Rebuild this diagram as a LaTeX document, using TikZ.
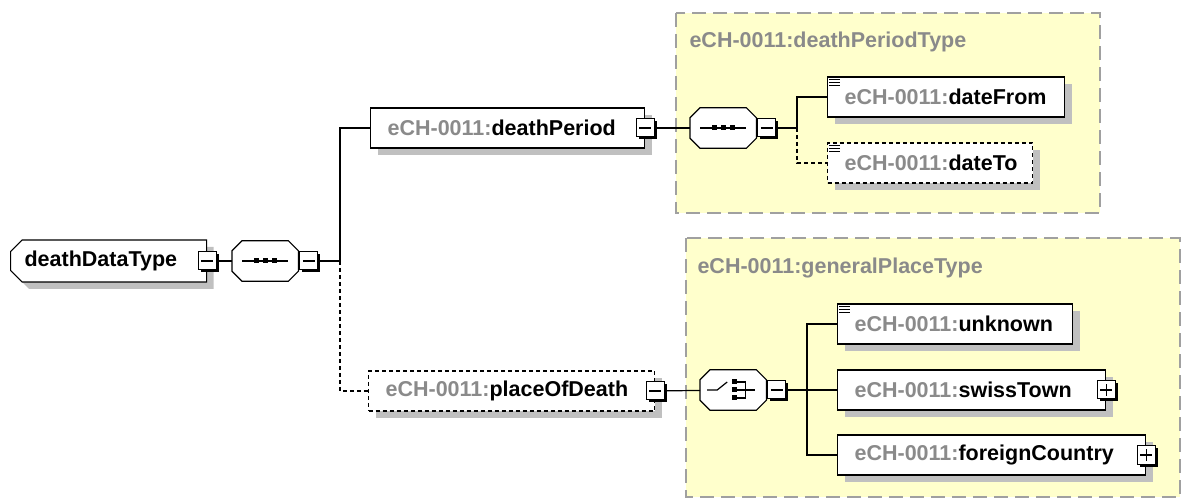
\documentclass[tikz,border=0pt]{standalone}
\usepackage{fontspec}
\setmainfont{Liberation Sans}
\usetikzlibrary{shapes.misc,shadows,positioning}
\definecolor{typebg}{HTML}{FFFFCC}
\definecolor{typeline}{HTML}{A0A0A0}
\definecolor{prefixgray}{HTML}{8A8A8A}
\definecolor{shadowgray}{HTML}{C0C0C0}
\newcommand{\elname}[1]{\mbox{\textcolor{prefixgray}{eCH-0011:}#1}}
\tikzset{
  boxshadow/.style = {drop shadow={shadow xshift=7pt, shadow yshift=-7pt,
                      fill=shadowgray, opacity=1}},
  elem/.style      = {rectangle, draw, line width=1.2pt, fill=white,
                      anchor=west, inner xsep=17pt, inner ysep=0pt,
                      minimum height=40pt, text width=#1, align=left,
                      font=\bfseries\fontsize{21.5}{21.5}\selectfont, boxshadow},
  optelem/.style   = {elem=#1, dash pattern=on 4pt off 3pt},
  root/.style      = {elem=#1, chamfered rectangle,
                      chamfered rectangle xsep=8pt,
                      chamfered rectangle corners={north west,south west},
                      inner xsep=6pt, minimum height=42pt},
  compbox/.style   = {rectangle, anchor=west, inner sep=0pt,
                      minimum width=66pt, minimum height=40pt},
  octshadow/.style = {fill=shadowgray, xshift=7pt, yshift=-7pt},
  octface/.style   = {draw, line width=1.2pt, fill=white},
  expander/.style  = {rectangle, draw, line width=1pt, fill=white,
                      minimum size=18pt, inner sep=0pt,
                      drop shadow={shadow xshift=2.5pt, shadow yshift=-2.5pt,
                                   fill=black, opacity=1},
                      path picture={\draw[line width=1.2pt]
                        ([xshift=3pt]path picture bounding box.west) --
                        ([xshift=-3pt]path picture bounding box.east);}},
  collapsed/.style = {expander,
                      path picture={\draw[line width=1.2pt]
                        ([xshift=3pt]path picture bounding box.west) --
                        ([xshift=-3pt]path picture bounding box.east);
                        \draw[line width=1.2pt]
                        ([yshift=3pt]path picture bounding box.south) --
                        ([yshift=-3pt]path picture bounding box.north);}},
  typebox/.style   = {draw=typeline, fill=typebg, line width=1.5pt,
                      dash pattern=on 14pt off 7pt},
  typelabel/.style = {anchor=west, text=prefixgray,
                      font=\bfseries\fontsize{21.5}{21.5}\selectfont},
  wire/.style      = {line width=1.2pt},
  optwire/.style   = {wire, dash pattern=on 4pt off 3pt}
}
\newcommand{\octagon}[1]{%
  \foreach \sty in {octshadow,octface}
    \path[\sty]
      ([xshift=10pt]#1.north west) -- ([xshift=-10pt]#1.north east)
      -- ([yshift=-10pt]#1.north east) -- ([yshift=10pt]#1.south east)
      -- ([xshift=-10pt]#1.south east) -- ([xshift=10pt]#1.south west)
      -- ([yshift=10pt]#1.south west) -- ([yshift=-10pt]#1.north west) -- cycle;}
\newcommand{\seqmark}[1]{%
  \draw[line width=1.2pt] ([xshift=-23pt]#1.center) -- ([xshift=23pt]#1.center);
  \foreach \dx in {-9,0,9}
    \fill ([xshift=\dx pt-2.5pt,yshift=-2.5pt]#1.center) rectangle ++(5pt,5pt);}
\newcommand{\choicemark}[1]{%
  \draw[line width=1.2pt] ([xshift=-26pt]#1.center) -- ++(10pt,0pt) -- ++(10pt,8pt);
  \foreach \dy in {-8,0,8}
    \fill ([xshift=-1pt,yshift=\dy pt-2.5pt]#1.center) rectangle ++(5pt,5pt);
  \draw[line width=1.2pt] ([xshift=4pt,yshift=8pt]#1.center) -- ++(8pt,0pt)
    -- ++(0pt,-16pt) -- ++(-8pt,0pt);
  \draw[line width=1.2pt] ([xshift=4pt]#1.center) -- ++(18pt,0pt);}
\newcommand{\docmark}[1]{%
  \foreach \dy in {3,6,9}
    \draw[line width=1.3pt] ([xshift=2pt,yshift=-\dy pt]#1.north west) -- ++(11pt,0pt);}
\begin{document}
\begin{tikzpicture}[x=1pt,y=-1pt]
  \useasboundingbox (0,0) rectangle (1181,502);

  % complex types
  \draw[typebox] (676,13) rectangle (1100,213);
  \node[typelabel] (dptype) at (686,42) {eCH-0011:deathPeriodType};
  \draw[typebox] (686,238) rectangle (1180,497);
  \node[typelabel] (gptype) at (694,268) {eCH-0011:generalPlaceType};

  % root
  \node[root=168pt] (ddt) at (10,261) {deathDataType};
  \node[expander] (ddtx) at (ddt.east) {};
  \node[compbox] (seqA) at (232,261) {};
  \octagon{seqA}
  \node[expander, right=1pt of seqA] (seqAx) {};
  \seqmark{seqA}

  % deathPeriod
  \node[elem=240pt] (dp) at (370,128) {\elname{deathPeriod}};
  \node[expander] (dpx) at (dp.east) {};
  \node[compbox] (seqB) at (690,128) {};
  \octagon{seqB}
  \node[expander, right=1pt of seqB] (seqBx) {};
  \seqmark{seqB}
  \node[elem=203pt] (df) at (827,97) {\elname{dateFrom}};
  \docmark{df}
  \node[optelem=171pt] (dt) at (827,163) {\elname{dateTo}};
  \docmark{dt}

  % placeOfDeath
  \node[optelem=252pt] (pod) at (368,391) {\elname{placeOfDeath}};
  \node[expander] (podx) at (pod.east) {};
  \node[compbox] (choice) at (700,390) {};
  \octagon{choice}
  \node[expander, right=1pt of choice] (choicex) {};
  \choicemark{choice}
  \node[elem=201pt] (unk) at (837,324) {\elname{unknown}};
  \docmark{unk}
  \node[elem=234pt] (st) at (837,390) {\elname{swissTown}};
  \node[collapsed] (stx) at (st.east) {};
  \node[elem=274pt] (fc) at (837,455) {\elname{foreignCountry}};
  \node[collapsed] (fcx) at (fc.east) {};

  % connectors
  \coordinate (brA) at (340,261);
  \coordinate (brB) at (797,128);
  \coordinate (brC) at (807,390);
  \draw[wire] (ddtx) -- (seqA);
  \draw[wire] (seqAx) -- (brA) |- (dp.west);
  \draw[optwire] (brA) |- (pod.west);
  \draw[wire] (dpx) -- (seqB);
  \draw[wire] (seqBx) -- (brB) |- (df.west);
  \draw[optwire] (brB) |- (dt.west);
  \draw[wire] (podx) -- (choice);
  \draw[wire] (choicex) -- (brC) |- (unk.west);
  \draw[wire] (brC) -- (st.west);
  \draw[wire] (brC) |- (fc.west);
\end{tikzpicture}
\end{document}
